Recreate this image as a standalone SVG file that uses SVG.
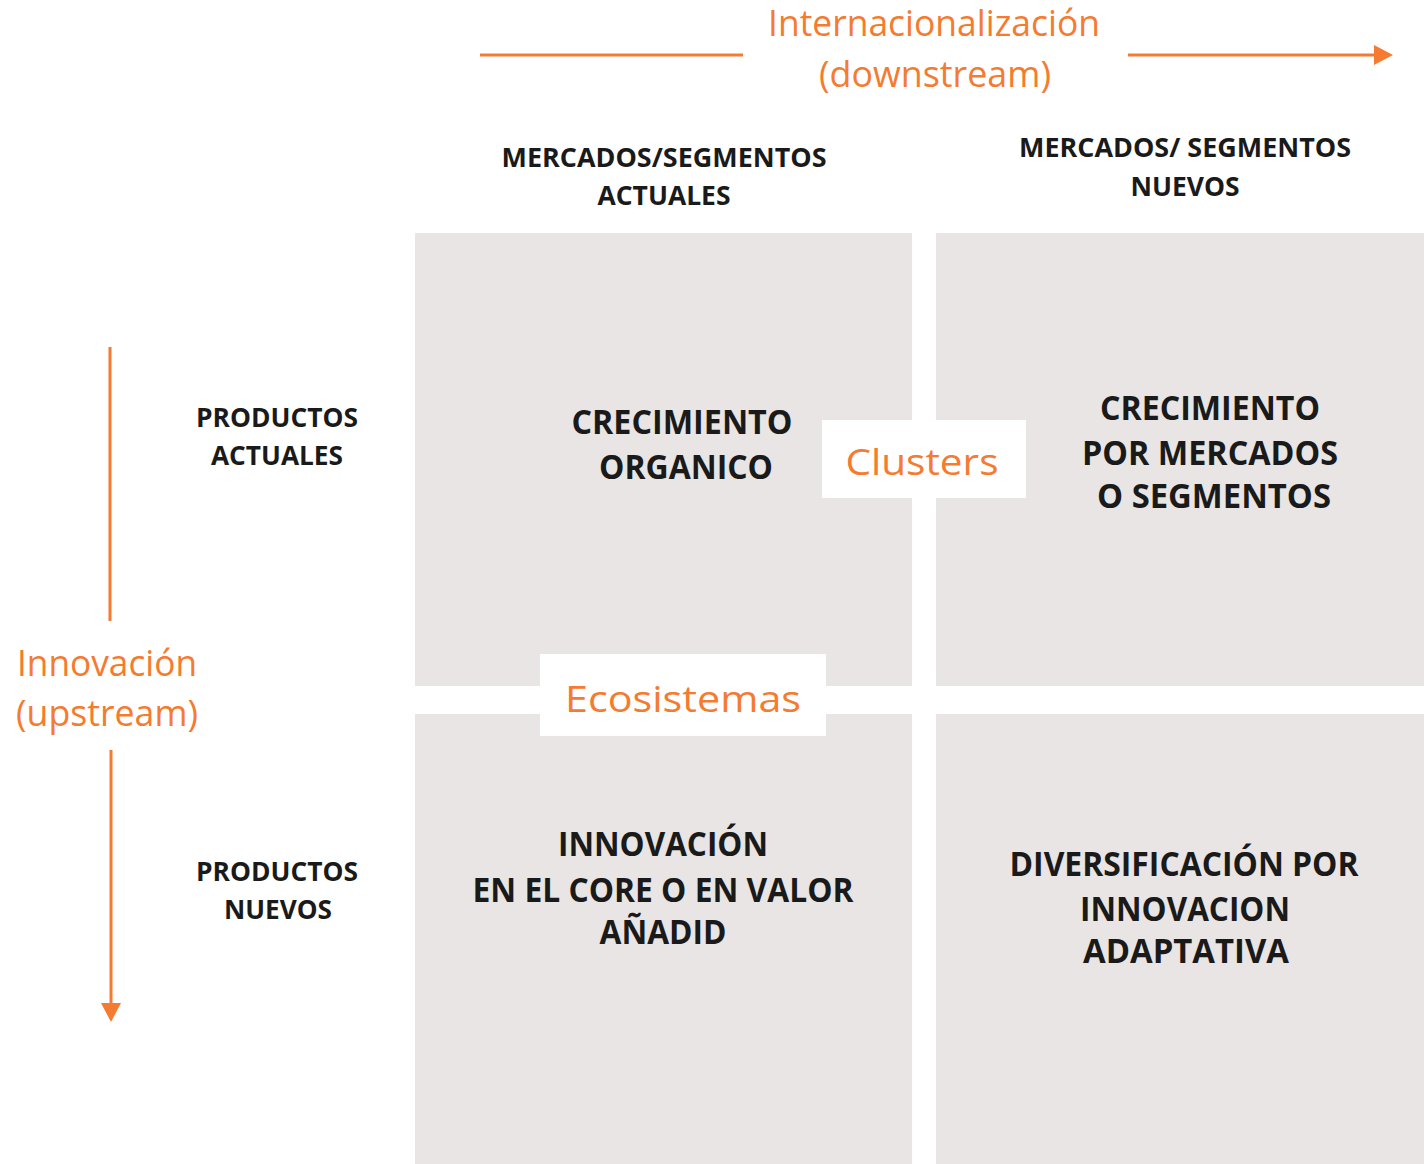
<svg xmlns="http://www.w3.org/2000/svg" width="1424" height="1164" viewBox="0 0 1424 1164">
<style>
.q{fill:#e8e5e4}
.lab{fill:#ffffff}
.or{fill:#f47b2f;font-family:"Open Sans","Liberation Sans",sans-serif;font-size:36px;font-weight:500;text-anchor:middle}
.hd{fill:#1a1a1a;font-family:"Open Sans","Liberation Sans",sans-serif;font-weight:700;font-size:27px;text-anchor:middle}
.qt{fill:#1a1a1a;font-family:"Open Sans","Liberation Sans",sans-serif;font-weight:700;font-size:34px;text-anchor:middle}
.ln{stroke:#f47b2f;stroke-width:3;fill:none}
</style>
<rect width="1424" height="1164" fill="#ffffff"/>
<g id="quadrants">
<g id="q-tl"><rect class="q" x="415" y="233" width="497" height="453"/>
<text class="qt" x="682" y="434" textLength="221" lengthAdjust="spacingAndGlyphs">CRECIMIENTO</text>
<text class="qt" x="686" y="479" textLength="174" lengthAdjust="spacingAndGlyphs">ORGANICO</text></g>
<g id="q-tr"><rect class="q" x="936" y="233" width="488" height="453"/>
<text class="qt" x="1210" y="420" textLength="220" lengthAdjust="spacingAndGlyphs">CRECIMIENTO</text>
<text class="qt" x="1210" y="465" textLength="256" lengthAdjust="spacingAndGlyphs">POR MERCADOS</text>
<text class="qt" x="1214" y="508" textLength="234" lengthAdjust="spacingAndGlyphs">O SEGMENTOS</text></g>
<g id="q-bl"><rect class="q" x="415" y="714" width="497" height="450"/>
<text class="qt" x="663" y="856" textLength="210" lengthAdjust="spacingAndGlyphs">INNOVACIÓN</text>
<text class="qt" x="663" y="902" textLength="381" lengthAdjust="spacingAndGlyphs">EN EL CORE O EN VALOR</text>
<text class="qt" x="663" y="944" textLength="127" lengthAdjust="spacingAndGlyphs">AÑADID</text></g>
<g id="q-br"><rect class="q" x="936" y="714" width="488" height="450"/>
<text class="qt" x="1184" y="876" textLength="349" lengthAdjust="spacingAndGlyphs">DIVERSIFICACIÓN POR</text>
<text class="qt" x="1185" y="921" textLength="210" lengthAdjust="spacingAndGlyphs">INNOVACION</text>
<text class="qt" x="1186" y="963" textLength="206" lengthAdjust="spacingAndGlyphs">ADAPTATIVA</text></g>
</g>
<g id="clusters"><rect class="lab" x="822" y="420" width="204" height="78"/>
<text class="or" x="922" y="475" font-size="40" textLength="153" lengthAdjust="spacingAndGlyphs">Clusters</text></g>
<g id="ecosistemas"><rect class="lab" x="540" y="654" width="286" height="82"/>
<text class="or" x="683" y="712" font-size="40" textLength="236" lengthAdjust="spacingAndGlyphs">Ecosistemas</text></g>
<g id="col-headers">
<text class="hd" x="664" y="167" textLength="325" lengthAdjust="spacingAndGlyphs">MERCADOS/SEGMENTOS</text>
<text class="hd" x="664" y="205" textLength="133" lengthAdjust="spacingAndGlyphs">ACTUALES</text>
<text class="hd" x="1185" y="157" textLength="332" lengthAdjust="spacingAndGlyphs">MERCADOS/ SEGMENTOS</text>
<text class="hd" x="1185" y="196" textLength="109" lengthAdjust="spacingAndGlyphs">NUEVOS</text>
</g>
<g id="row-headers">
<text class="hd" x="277" y="427" textLength="162" lengthAdjust="spacingAndGlyphs">PRODUCTOS</text>
<text class="hd" x="277" y="465" textLength="132" lengthAdjust="spacingAndGlyphs">ACTUALES</text>
<text class="hd" x="277" y="881" textLength="162" lengthAdjust="spacingAndGlyphs">PRODUCTOS</text>
<text class="hd" x="278" y="919" textLength="108" lengthAdjust="spacingAndGlyphs">NUEVOS</text>
</g>
<g id="axis-labels">
<text class="or" x="934" y="36" textLength="332" lengthAdjust="spacingAndGlyphs">Internacionalización</text>
<text class="or" x="935" y="87" textLength="232" lengthAdjust="spacingAndGlyphs">(downstream)</text>
<text class="or" x="107" y="676" textLength="180" lengthAdjust="spacingAndGlyphs">Innovación</text>
<text class="or" x="107" y="726" textLength="182" lengthAdjust="spacingAndGlyphs">(upstream)</text>
</g>
<g id="connectors">
<line class="ln" x1="480" y1="55" x2="743" y2="55"/>
<path d="M1128,55 L1376,55" class="ln"/>
<path d="M1374,45 L1393,55 L1374,65 z" fill="#f47b2f"/>
<line class="ln" x1="110" y1="347" x2="110" y2="621"/>
<path d="M111,750 L111,1006" class="ln"/>
<path d="M101,1003 L111,1022 L121,1003 z" fill="#f47b2f"/>
</g>
</svg>
